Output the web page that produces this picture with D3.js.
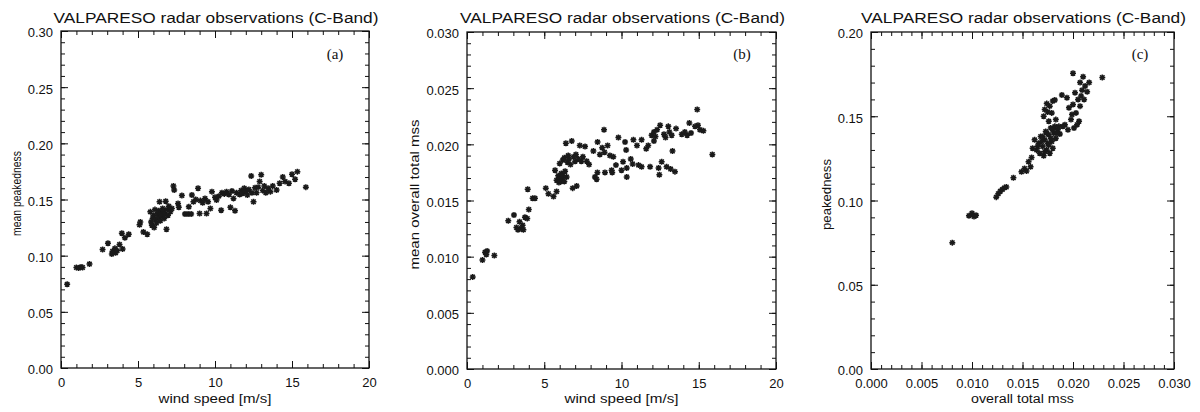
<!DOCTYPE html>
<meta charset="utf-8">
<head><title>VALPARESO radar observations</title>
<style>
body { margin: 0; background: #fff; }
text { font-family: "Liberation Sans", Arial, sans-serif; fill: #111; }
.tick text { font-size: 13px; }
.tick line { stroke: #111; stroke-width: 1; }
.domain { display: none; }
.frame { fill: none; stroke: #111; stroke-width: 1.3; }
.star { stroke: #1a1a1a; stroke-width: 1.5; fill: none; }
.plabel { font-family: "Liberation Serif", "Times New Roman", serif; font-size: 15px; }
</style>
</head>
<body>
<svg width="1200" height="412"></svg>
<script src="https://d3js.org/d3.v7.min.js"></script>
<script>

var titleText = "VALPARESO radar observations (C-Band)";

// (a) mean peakedness vs wind speed  [ws, peakedness]
var peakVsWind = [
  [0.4,0.0745],
  [1.0,0.0895],[1.15,0.0890],[1.3,0.0900],[1.4,0.0895],
  [1.85,0.0925],[2.7,0.1055],[3.05,0.1110],
  [3.3,0.1015],[3.35,0.1040],[3.5,0.1065],[3.55,0.1025],[3.65,0.1045],
  [3.8,0.1100],[3.95,0.1200],[4.0,0.1060],[4.15,0.1160],[4.4,0.1190],
  [5.1,0.1275],[5.15,0.1300],[5.35,0.1210],[5.6,0.1190],
  [5.8,0.1390],[5.85,0.1300],[5.9,0.1270],[5.95,0.1330],[6.0,0.1360],[6.05,0.1250],
  [6.1,0.1410],[6.15,0.1320],[6.2,0.1290],[6.25,0.1370],[6.3,0.1345],[6.35,0.1400],
  [6.4,0.1480],[6.45,0.1310],[6.5,0.1380],[6.55,0.1355],[6.6,0.1420],[6.65,0.1400],
  [6.7,0.1330],[6.75,0.1370],[6.8,0.1485],[6.85,0.1235],[6.9,0.1410],[6.95,0.1360],
  [7.0,0.1440],[7.1,0.1390],[7.2,0.1420],[7.3,0.1620],[7.35,0.1585],
  [7.6,0.1465],[7.65,0.1430],[7.85,0.1535],
  [8.05,0.1370],[8.25,0.1370],[8.3,0.1435],[8.45,0.1370],[8.5,0.1540],
  [8.6,0.1480],[8.75,0.1500],[8.9,0.1600],[9.0,0.1375],[9.05,0.1490],[9.2,0.1470],
  [9.35,0.1510],[9.45,0.1375],[9.55,0.1480],[9.7,0.1420],[9.8,0.1570],
  [10.0,0.1520],[10.1,0.1495],[10.25,0.1530],[10.4,0.1405],[10.45,0.1560],[10.6,0.1550],
  [10.75,0.1570],[10.9,0.1545],[11.0,0.1430],[11.1,0.1575],[11.2,0.1510],[11.3,0.1400],
  [11.4,0.1560],[11.6,0.1545],[11.7,0.1580],[11.8,0.1555],[11.9,0.1600],[12.0,0.1570],
  [12.1,0.1540],[12.2,0.1590],[12.35,0.1710],[12.4,0.1560],[12.5,0.1480],[12.6,0.1605],
  [12.7,0.1560],[12.8,0.1610],[12.9,0.1660],[13.0,0.1720],[13.1,0.1580],[13.2,0.1620],
  [13.3,0.1560],[13.45,0.1600],[13.6,0.1570],[13.75,0.1620],[14.0,0.1585],[14.2,0.1645],
  [14.4,0.1700],[14.55,0.1660],[14.8,0.1645],[15.0,0.1725],[15.2,0.1680],[15.35,0.1748],
  [15.9,0.1610]
];

// (b) mean overall total mss vs wind speed  [ws, mss]
var mssVsWind = [
  [0.37,0.0082],
  [1.0,0.0097],[1.17,0.0104],[1.3,0.0105],[1.25,0.0102],[1.77,0.0101],
  [2.67,0.0132],[3.04,0.0137],
  [3.2,0.0126],[3.3,0.0124],[3.4,0.0131],[3.5,0.0125],[3.6,0.0128],[3.65,0.0124],
  [3.75,0.0135],[3.9,0.0134],[4.0,0.0142],[3.93,0.0160],[4.25,0.0152],[4.4,0.0152],
  [5.1,0.0161],[5.27,0.0156],[5.6,0.01535],[5.8,0.0158],
  [5.7,0.0177],[5.8,0.0168],[5.9,0.0172],[5.95,0.0166],[6.0,0.0170],[6.05,0.0167],
  [6.1,0.0174],[6.15,0.0169],[6.2,0.0172],[6.3,0.0167],[6.35,0.0176],[6.45,0.0171],
  [6.0,0.0183],[6.2,0.0186],[6.3,0.0188],[6.4,0.0201],[6.5,0.0184],[6.55,0.0190],
  [6.6,0.0187],[6.7,0.0182],[6.78,0.0203],[6.84,0.0161],[6.9,0.0189],[7.0,0.0185],
  [7.05,0.0191],[7.1,0.0163],[7.2,0.0187],[7.3,0.0199],[7.4,0.0185],[7.5,0.0189],
  [7.64,0.0198],[7.75,0.0185],[7.9,0.0182],
  [8.18,0.0194],[8.28,0.0171],[8.39,0.0169],[8.44,0.0175],[8.45,0.0202],
  [8.6,0.0191],[8.75,0.0197],[8.87,0.0213],[8.9,0.0193],[8.93,0.0175],[9.1,0.0199],[9.25,0.0190],
  [9.36,0.0177],[9.4,0.0175],[9.47,0.0189],[9.64,0.01815],[9.8,0.0206],
  [10.0,0.0177],[10.1,0.01845],[10.23,0.0202],[10.3,0.0195],[10.34,0.0171],[10.34,0.0179],
  [10.6,0.0187],[10.77,0.0204],[10.72,0.01825],[11.0,0.0199],[11.1,0.01815],[11.3,0.0180],
  [11.3,0.0204],[11.6,0.0196],[11.73,0.0199],[11.85,0.0180],
  [11.95,0.0208],[12.1,0.0211],[12.2,0.0207],[12.3,0.0213],[12.1,0.0203],[12.4,0.0179],
  [12.45,0.0173],[12.5,0.0217],[12.6,0.01845],[12.75,0.0209],[12.85,0.0206],[12.92,0.0180],
  [13.03,0.0216],[13.1,0.0211],[13.18,0.0178],[13.25,0.0208],[13.3,0.0194],[13.46,0.01757],
  [13.53,0.0214],[13.9,0.0209],[14.1,0.0211],[14.25,0.0208],[14.39,0.0219],[14.5,0.0210],
  [14.76,0.0216],[14.9,0.0231],[14.95,0.0217],[15.08,0.0213],[15.3,0.0212],[15.88,0.0191]
];

// (c) peakedness vs overall total mss  [mss, peakedness]
var peakVsMss = [
  [0.00805,0.0750],
  [0.0097,0.0910],[0.0100,0.0925],[0.0102,0.0905],[0.0104,0.0912],
  [0.0124,0.1020],[0.0126,0.1040],[0.0128,0.1055],[0.0130,0.1065],[0.0132,0.1075],[0.0134,0.1080],
  [0.0141,0.1135],
  [0.0149,0.1170],[0.0152,0.1190],[0.0154,0.1175],
  [0.0156,0.1230],[0.0158,0.1200],[0.0159,0.1255],[0.0160,0.1310],[0.0162,0.1360],
  [0.0164,0.1300],[0.0166,0.1340],[0.0167,0.1280],[0.0168,0.1380],[0.0170,0.1320],
  [0.0171,0.1265],[0.0172,0.1360],[0.0173,0.1410],[0.0174,0.1300],[0.0175,0.1340],
  [0.0176,0.1390],[0.0177,0.1280],[0.0178,0.1430],[0.0179,0.1350],[0.0180,0.1310],
  [0.0181,0.1400],[0.0182,0.1440],[0.0183,0.1370],[0.0185,0.1420],[0.0187,0.1395],
  [0.0165,0.1320],[0.0169,0.1350],[0.0172,0.1290],[0.0176,0.1330],[0.0178,0.1370],
  [0.0180,0.1420],[0.0184,0.1400],[0.0186,0.1440],[0.0174,0.1400],[0.0170,0.1380],
  [0.0171,0.1500],[0.0172,0.1540],[0.0174,0.1575],[0.0176,0.1470],[0.0177,0.1560],
  [0.0179,0.1520],[0.0180,0.1590],[0.0183,0.1480],[0.0182,0.1596],[0.0175,0.1525],
  [0.0189,0.1626],[0.0194,0.1610],[0.0196,0.1550],[0.0198,0.1480],[0.0200,0.1570],
  [0.0201,0.1430],[0.0203,0.1520],[0.0205,0.1600],[0.0206,0.1470],[0.0207,0.1560],
  [0.0192,0.1450],[0.0195,0.1420],[0.0190,0.1440],[0.0199,0.1510],[0.0204,0.1450],
  [0.0200,0.1755],[0.0207,0.1700],[0.0210,0.1735],[0.0212,0.1680],[0.0214,0.1646],
  [0.0216,0.1700],[0.0209,0.1655],[0.0202,0.1640],[0.0208,0.1620],[0.0211,0.1600],
  [0.0229,0.1730]
];

var panels = [
  { data: peakVsWind, tag: "(a)", xLabel: "wind speed [m/s]", yLabel: "mean peakedness",
    left: 61, right: 369, top: 31, bottom: 368,
    xDomain: [0, 20], xMajor: 5, xMinor: 1, xFmt: "d",
    yDomain: [0, 0.30], yMajor: 0.05, yMinor: 0.01, yFmt: ".2f",
    yLabelX: 17, yLabelLen: 85, xLabelLen: 113 },
  { data: mssVsWind, tag: "(b)", xLabel: "wind speed [m/s]", yLabel: "mean overall total mss",
    left: 467, right: 776, top: 32, bottom: 369,
    xDomain: [0, 20], xMajor: 5, xMinor: 1, xFmt: "d",
    yDomain: [0, 0.030], yMajor: 0.005, yMinor: 0.001, yFmt: ".3f",
    yLabelX: 415, yLabelLen: 150, xLabelLen: 114 },
  { data: peakVsMss, tag: "(c)", xLabel: "overall total mss", yLabel: "peakedness",
    left: 871, right: 1174, top: 32, bottom: 369,
    xDomain: [0, 0.030], xMajor: 0.005, xMinor: 0.001, xFmt: ".3f",
    yDomain: [0, 0.20], yMajor: 0.05, yMinor: 0.01, yFmt: ".2f",
    yLabelX: 827, yLabelLen: 71, xLabelLen: 103 }
];

var svg = d3.select("svg");

function steps(domain, step) {
  var n = Math.round((domain[1] - domain[0]) / step);
  return d3.range(n + 1).map(function(i) { return domain[0] + i * step; });
}

panels.forEach(function(p) {
  var x = d3.scaleLinear().domain(p.xDomain).range([p.left, p.right]);
  var y = d3.scaleLinear().domain(p.yDomain).range([p.bottom, p.top]);
  var g = svg.append("g");

  var xMaj = steps(p.xDomain, p.xMajor), xMin = steps(p.xDomain, p.xMinor);
  var yMaj = steps(p.yDomain, p.yMajor), yMin = steps(p.yDomain, p.yMinor);

  // minor ticks, all four sides, pointing inward
  g.append("g").attr("transform", "translate(0," + p.bottom + ")")
    .call(d3.axisBottom(x).tickValues(xMin).tickSize(-4).tickFormat(""));
  g.append("g").attr("transform", "translate(0," + p.top + ")")
    .call(d3.axisTop(x).tickValues(xMin).tickSize(-4).tickFormat(""));
  g.append("g").attr("transform", "translate(" + p.left + ",0)")
    .call(d3.axisLeft(y).tickValues(yMin).tickSize(-4).tickFormat(""));
  g.append("g").attr("transform", "translate(" + p.right + ",0)")
    .call(d3.axisRight(y).tickValues(yMin).tickSize(-4).tickFormat(""));

  // major ticks with labels
  g.append("g").attr("transform", "translate(0," + p.bottom + ")")
    .call(d3.axisBottom(x).tickValues(xMaj).tickSize(-7).tickPadding(10).tickFormat(d3.format(p.xFmt)));
  g.append("g").attr("transform", "translate(0," + p.top + ")")
    .call(d3.axisTop(x).tickValues(xMaj).tickSize(-7).tickFormat(""));
  g.append("g").attr("transform", "translate(" + p.left + ",0)")
    .call(d3.axisLeft(y).tickValues(yMaj).tickSize(-7).tickPadding(8).tickFormat(d3.format(p.yFmt)))
    .selectAll("text").attr("dy", "0.45em");
  g.append("g").attr("transform", "translate(" + p.right + ",0)")
    .call(d3.axisRight(y).tickValues(yMaj).tickSize(-7).tickFormat(""));

  g.append("rect").attr("class", "frame")
    .attr("x", p.left).attr("y", p.top)
    .attr("width", p.right - p.left).attr("height", p.bottom - p.top);

  // asterisk markers
  var r = 3, d2 = 2.2;
  var star = "M" + (-r) + ",0H" + r + "M0," + (-r) + "V" + r +
             "M" + (-d2) + "," + (-d2) + "L" + d2 + "," + d2 +
             "M" + (-d2) + "," + d2 + "L" + d2 + "," + (-d2);
  g.append("g").selectAll("path").data(p.data).enter().append("path")
    .attr("class", "star")
    .attr("transform", function(d) { return "translate(" + x(d[0]) + "," + y(d[1]) + ")"; })
    .attr("d", star);

  var cx = (p.left + p.right) / 2, cy = (p.top + p.bottom) / 2;

  g.append("text").attr("x", cx + 1).attr("y", 23)
    .attr("text-anchor", "middle").style("font-size", "14px")
    .attr("textLength", 325).attr("lengthAdjust", "spacingAndGlyphs")
    .text(titleText);

  g.append("text").attr("x", cx).attr("y", 403)
    .attr("text-anchor", "middle").style("font-size", "12px")
    .attr("textLength", p.xLabelLen).attr("lengthAdjust", "spacingAndGlyphs")
    .text(p.xLabel);

  g.append("text")
    .attr("transform", "translate(" + (p.yLabelX + 4) + "," + (cy - 6) + ") rotate(-90)")
    .attr("text-anchor", "middle").style("font-size", "12px")
    .attr("textLength", p.yLabelLen).attr("lengthAdjust", "spacingAndGlyphs")
    .text(p.yLabel);

  g.append("text").attr("class", "plabel")
    .attr("x", p.right - 34).attr("y", 59)
    .attr("text-anchor", "middle")
    .text(p.tag);
});

</script>
</body>
